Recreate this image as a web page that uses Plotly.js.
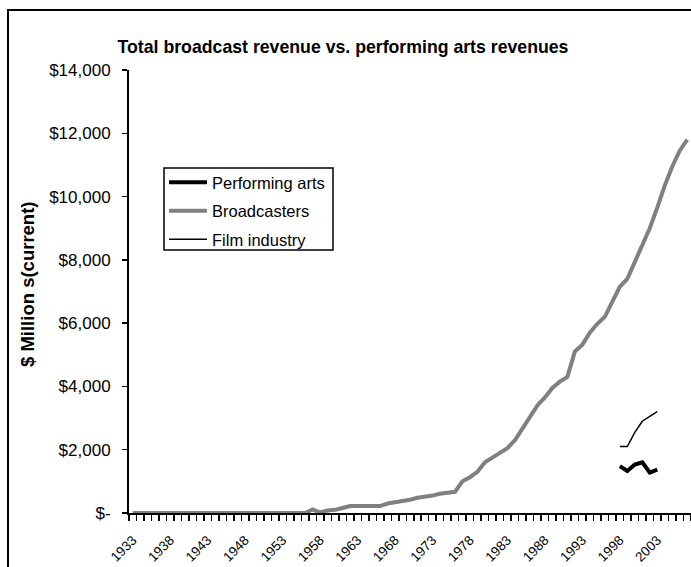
<!DOCTYPE html>
<html>
<head>
<meta charset="utf-8">
<script src="https://cdn.plot.ly/plotly-3.0.1.min.js"></script>
<style>
  html, body { margin: 0; padding: 0; background: #fff; overflow: hidden; }
  #frame { position: absolute; left: 7px; top: 9px; width: 720px; height: 620px; border: 2px solid #000; box-sizing: border-box; }
  #chart { position: absolute; left: 0; top: 0; width: 691px; height: 567px; }
</style>
</head>
<body>
<div id="frame"></div>
<div id="chart"></div>
<script>
const years = [1933,1934,1935,1936,1937,1938,1939,1940,1941,1942,1943,1944,1945,1946,1947,1948,1949,1950,1951,1952,1953,1954,1955,1956,1957,1958,1959,1960,1961,1962,1963,1964,1965,1966,1967,1968,1969,1970,1971,1972,1973,1974,1975,1976,1977,1978,1979,1980,1981,1982,1983,1984,1985,1986,1987,1988,1989,1990,1991,1992,1993,1994,1995,1996,1997,1998,1999,2000,2001,2002,2003,2004,2005,2006,2007];
const broadcasters = [0,0,0,0,0,0,0,0,0,0,0,0,0,0,0,0,0,0,0,0,0,0,0,
  0,110,20,80,100,160,220,220,220,220,220,300,340,350,420,480,500,550,610,640,670,
  1000,1130,1300,1600,1750,1900,2050,2300,2650,3050,3400,3650,3950,4150,4300,5100,
  5320,5700,5980,6200,6650,7150,7400,7950,8500,9000,9650,10350,10950,11450,11800];
const artsYears = [1998,1999,2000,2001,2002,2003];
const performingArts = [1480,1330,1530,1600,1280,1370];
const filmIndustry = [2100,2100,2550,2900,3050,3200];
const labelYears = [1933,1938,1943,1948,1953,1958,1963,1968,1973,1978,1983,1988,1993,1998,2003];
const yTickVals = [0,2000,4000,6000,8000,10000,12000,14000];
const yTickText = ["$-","$2,000","$4,000","$6,000","$8,000","$10,000","$12,000","$14,000"];

const FONT = "Arial, 'Liberation Sans', sans-serif";

// plot area in pixels: x 129..691, y 70..513
const PX = v => (v - 129) / 562;
const PY = v => (513 - v) / 443;

const traces = [
  {x: artsYears, y: performingArts, name: "Performing arts", mode: "lines", legendgroup: "a",
   line: {color: "#000000", width: 4}},
  {x: years, y: broadcasters, name: "Broadcasters", mode: "lines", legendgroup: "b",
   line: {color: "#808080", width: 4}},
  {x: artsYears, y: filmIndustry, name: "Film industry", mode: "lines", legendgroup: "c",
   line: {color: "#000000", width: 1.5}}
];

const layout = {
  width: 691, height: 567,
  margin: {l: 129, r: 0, t: 70, b: 54, pad: 0},
  paper_bgcolor: "rgba(0,0,0,0)",
  plot_bgcolor: "rgba(0,0,0,0)",
  font: {family: FONT, color: "#000", size: 16},
  showlegend: true,
  title: {text: "Total broadcast revenue vs. performing arts revenues",
          font: {family: FONT, size: 17.7, weight: "bold", color: "#000"},
          x: 0.4964, xref: "container", xanchor: "center",
          y: 1 - 47/567, yref: "container", yanchor: "middle"},
  xaxis: {
    type: "linear", range: [1932.5, 2007.5],
    tickmode: "array", tickvals: labelYears, ticktext: labelYears.map(String),
    tickangle: -45, tickfont: {size: 13.5, family: FONT},
    ticks: "", showgrid: false, zeroline: false,
    showline: true, linecolor: "#000", linewidth: 2,
    minor: {tick0: 1932.5, dtick: 1, ticks: "outside", ticklen: 6, tickcolor: "#000", tickwidth: 1.5, showgrid: false},
    ticklabelstandoff: 12
  },
  yaxis: {
    range: [0, 14000], tickmode: "array", tickvals: yTickVals, ticktext: yTickText,
    ticks: "outside", ticklen: 5, tickwidth: 1.5, tickcolor: "#000",
    showgrid: false, zeroline: false, showline: true, linecolor: "#000", linewidth: 2,
    tickfont: {size: 17, family: FONT}, ticklabelstandoff: 8
  },
  annotations: [{
    text: "<b>$ Million s(current)</b>", textangle: -90,
    xref: "paper", yref: "paper", x: PX(27), y: PY(284), xanchor: "center", yanchor: "middle",
    showarrow: false, font: {size: 18.5, family: FONT, color: "#000"}
  }],
  shapes: [{
    type: "rect", xref: "paper", yref: "paper",
    x0: PX(164), x1: PX(333), y0: PY(250), y1: PY(168),
    line: {color: "#000", width: 1.5}, fillcolor: "#fff", layer: "below"
  }],
  legend: {
    x: PX(164), y: PY(165), xanchor: "left", yanchor: "top",
    bgcolor: "rgba(0,0,0,0)", borderwidth: 0,
    font: {size: 16.5, family: FONT}, traceorder: "grouped", tracegroupgap: 4,
    itemwidth: 38
  }
};

Plotly.newPlot("chart", traces, layout, {displayModeBar: false, staticPlot: true});
</script>
</body>
</html>
